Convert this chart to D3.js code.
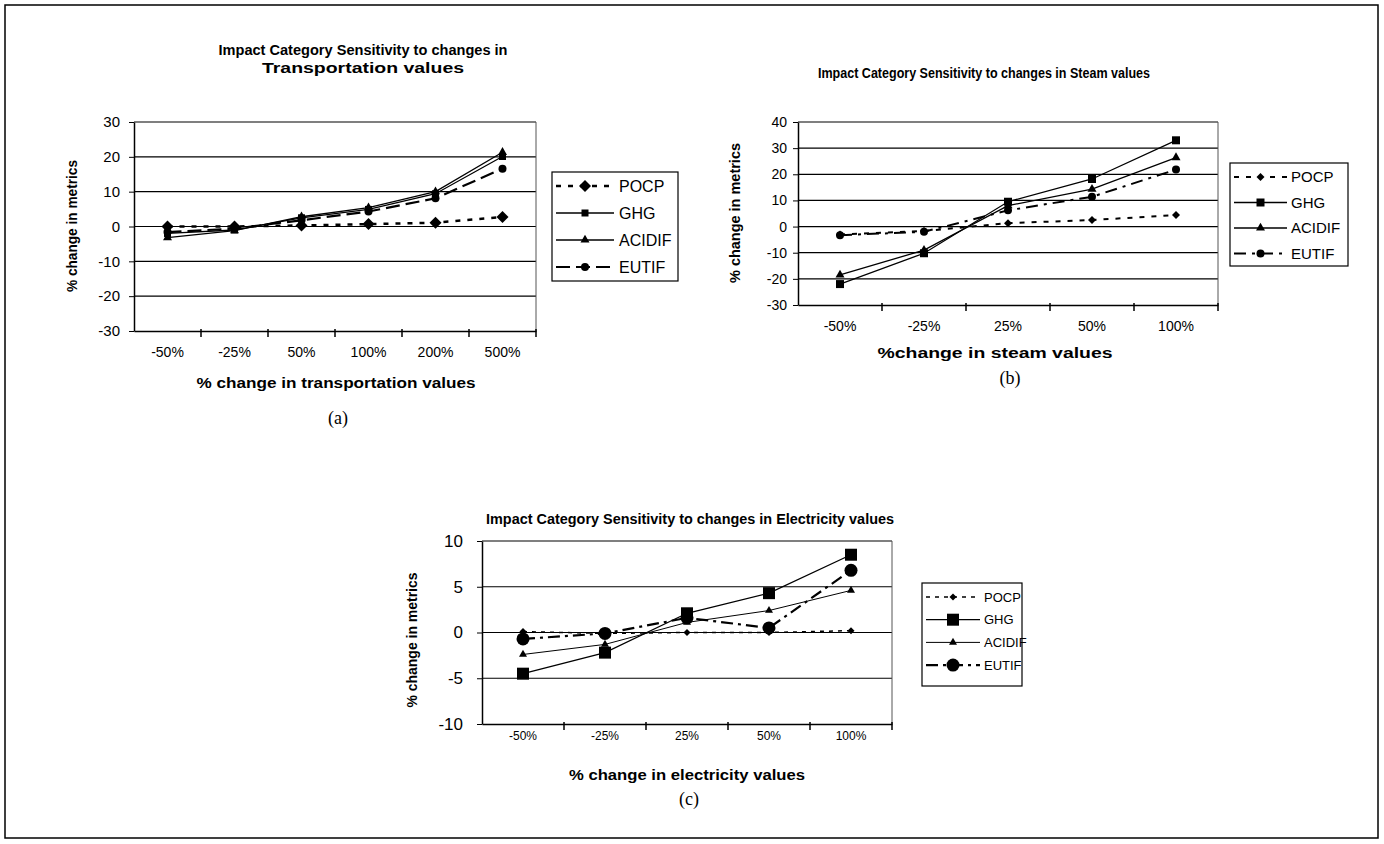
<!DOCTYPE html>
<html>
<head>
<meta charset="utf-8">
<script src="https://cdn.jsdelivr.net/npm/d3@7"></script>
<style>
  body { margin: 0; background: #fff; }
  text { font-family: "Liberation Sans", Arial, sans-serif; fill: #000; }
  .cap { font-family: "Liberation Serif", "Times New Roman", serif; }
</style>
</head>
<body>
<div class="viz"></div>
<script>
const seriesNames = ['POCP', 'GHG', 'ACIDIF', 'EUTIF']

// (a) transportation
const transportCategories = ['-50%', '-25%', '50%', '100%', '200%', '500%']
const transportTicks = [-30, -20, -10, 0, 10, 20, 30]
const transportPOCP = [0, 0, 0.3, 0.7, 1.1, 2.7]
const transportGHG = [-2, -1, 2.5, 4.9, 9.4, 20.1]
const transportACIDIF = [-3.2, -1.2, 2.8, 5.4, 10, 21.3]
const transportEUTIF = [-1.6, -0.6, 1.8, 4.3, 8.1, 16.6]

// (b) steam
const steamCategories = ['-50%', '-25%', '25%', '50%', '100%']
const steamTicks = [-30, -20, -10, 0, 10, 20, 30, 40]
const steamPOCP = [-3, -1.7, 1.3, 2.5, 4.4]
const steamGHG = [-22, -10.2, 9.5, 18.2, 33]
const steamACIDIF = [-18.5, -9, 8, 14.3, 26.4]
const steamEUTIF = [-3.3, -2, 6.2, 11.4, 21.8]

// (c) electricity
const electricityCategories = ['-50%', '-25%', '25%', '50%', '100%']
const electricityTicks = [-10, -5, 0, 5, 10]
const electricityPOCP = [0.1, -0.1, 0, 0, 0.2]
const electricityGHG = [-4.5, -2.2, 2.1, 4.3, 8.5]
const electricityACIDIF = [-2.4, -1.3, 1.1, 2.4, 4.6]
const electricityEUTIF = [-0.7, -0.1, 1.6, 0.5, 6.8]

const svg = d3.select('.viz')
  .append('svg')
    .attr('width', 1384)
    .attr('height', 844)

// outer frame of the page
svg.append('rect')
  .attr('x', 5).attr('y', 5)
  .attr('width', 1373).attr('height', 833)
  .attr('fill', 'none').attr('stroke', '#000').attr('stroke-width', 1.5)

// turn a marker spec into a d3 symbol path
function markerPath(m) {
  if (m.type === 'diamond') return d3.symbol(d3.symbolSquare, m.size * m.size / 2)()
  if (m.type === 'square') return d3.symbol(d3.symbolSquare, m.size * m.size)()
  if (m.type === 'triangle') return d3.symbol(d3.symbolTriangle, Math.sqrt(3) / 4 * m.size * m.size)()
  return d3.symbol(d3.symbolCircle, Math.PI * m.size * m.size)()
}

function fitText(sel, len) {
  return sel.attr('textLength', len).attr('lengthAdjust', 'spacingAndGlyphs')
}

function drawPanel(p) {
  const x = d3.scaleBand().domain(p.categories).range([p.left, p.right])
  const y = d3.scaleLinear().domain(d3.extent(p.ticks)).range([p.bottom, p.top])
  const g = svg.append('g')

  // horizontal gridlines
  g.selectAll('line.grid')
    .data(p.ticks.slice(1)).enter().append('line')
      .attr('x1', p.left).attr('x2', p.right)
      .attr('y1', d => y(d)).attr('y2', d => y(d))
      .attr('stroke', '#000').attr('stroke-width', 1.2)

  // right border of the plot
  g.append('line')
    .attr('x1', p.right).attr('x2', p.right)
    .attr('y1', p.top).attr('y2', p.bottom)
    .attr('stroke', '#555').attr('stroke-width', 1)

  // y axis, plain hyphen minus like the original
  const yAxis = g.append('g')
    .attr('transform', `translate(${p.left},0)`)
    .call(d3.axisLeft(y).tickValues(p.ticks).tickFormat(d => String(d))
      .tickSize(5).tickPadding(p.yPad).tickSizeOuter(0))
  yAxis.select('.domain').attr('stroke-width', 1.5)
  yAxis.selectAll('text').attr('font-size', p.yFont).attr('font-family', null)

  // x axis, labels centred in the bands
  const xAxis = g.append('g')
    .attr('transform', `translate(0,${p.bottom})`)
    .call(d3.axisBottom(x).tickSize(0).tickPadding(p.xPad).tickSizeOuter(0))
  xAxis.select('.domain').attr('stroke-width', 1.5)
  xAxis.selectAll('text').attr('font-size', p.xFont).attr('font-family', null)

  // x ticks sit on the band boundaries
  const bounds = p.categories.map(c => x(c)).concat([x.range()[1]])
  g.selectAll('line.xtick')
    .data(bounds.slice(1)).enter().append('line')
      .attr('x1', d => d).attr('x2', d => d)
      .attr('y1', p.bottom - 2).attr('y2', p.bottom + 6)
      .attr('stroke', '#000').attr('stroke-width', 1.5)

  // series lines and markers
  const line = d3.line()
    .x((d, i) => x(p.categories[i]) + x.bandwidth() / 2)
    .y(d => y(d))

  p.series.forEach(s => {
    g.append('path')
      .attr('d', line(s.values))
      .attr('fill', 'none')
      .attr('stroke', '#000')
      .attr('stroke-width', s.width)
      .attr('stroke-dasharray', s.dash)

    g.selectAll(null)
      .data(s.values).enter().append('path')
        .attr('d', markerPath(s.marker))
        .attr('transform', (d, i) => `translate(${x(p.categories[i]) + x.bandwidth() / 2},${y(d)})` + (s.marker.type === 'diamond' ? ' rotate(45)' : ''))
        .attr('fill', '#000')
  })

  // titles
  p.title.forEach((t, i) => {
    fitText(g.append('text'), p.titleLen[i])
      .attr('x', p.titleX).attr('y', p.titleY[i])
      .attr('text-anchor', 'middle')
      .attr('font-weight', 'bold').attr('font-size', 14)
      .text(t)
  })

  fitText(g.append('text'), p.xTitleLen)
    .attr('x', p.xTitleX).attr('y', p.xTitleY)
    .attr('text-anchor', 'middle')
    .attr('font-weight', 'bold').attr('font-size', 14)
    .text(p.xTitle)

  fitText(g.append('text'), p.yTitleLen)
    .attr('transform', `translate(${p.yTitleX},${p.yTitleY}) rotate(-90)`)
    .attr('text-anchor', 'middle')
    .attr('font-weight', 'bold').attr('font-size', 14)
    .text('% change in metrics')

  g.append('text')
    .attr('class', 'cap')
    .attr('x', p.capX).attr('y', p.capY)
    .attr('text-anchor', 'middle')
    .attr('font-size', 18)
    .text(p.caption)

  // legend
  const L = p.legend
  g.append('rect')
    .attr('x', L.x).attr('y', L.y)
    .attr('width', L.w).attr('height', L.h)
    .attr('fill', '#fff').attr('stroke', '#000').attr('stroke-width', 1.2)

  const rows = g.selectAll('g.row')
    .data(p.series).enter().append('g')
    .attr('transform', (d, i) => `translate(0,${L.row0 + i * L.dy})`)

  rows.append('line')
    .attr('x1', L.x0).attr('x2', L.x1)
    .attr('stroke', '#000')
    .attr('stroke-width', d => d.width)
    .attr('stroke-dasharray', d => d.dash)

  rows.append('path')
    .attr('d', d => markerPath(d.marker))
    .attr('transform', d => `translate(${(L.x0 + L.x1) / 2},0)` + (d.marker.type === 'diamond' ? ' rotate(45)' : ''))
    .attr('fill', '#000')

  rows.append('text')
    .attr('x', L.tx).attr('dy', '0.36em')
    .attr('font-size', L.font)
    .text(d => d.name)
}

drawPanel({
  categories: transportCategories, ticks: transportTicks,
  left: 134, right: 536, top: 122, bottom: 331,
  yFont: 15, yPad: 9, xFont: 14, xPad: 16,
  series: [
    { name: seriesNames[0], values: transportPOCP, width: 2.5, dash: '5,7', marker: { type: 'diamond', size: 12 } },
    { name: seriesNames[1], values: transportGHG, width: 1.3, dash: null, marker: { type: 'square', size: 7 } },
    { name: seriesNames[2], values: transportACIDIF, width: 1.3, dash: null, marker: { type: 'triangle', size: 9 } },
    { name: seriesNames[3], values: transportEUTIF, width: 2.2, dash: '14,6', marker: { type: 'circle', size: 4 } }
  ],
  title: ['Impact Category Sensitivity to changes in', 'Transportation values'],
  titleLen: [289, 202], titleX: 363, titleY: [55, 73],
  xTitle: '% change in transportation values', xTitleLen: 279, xTitleX: 336, xTitleY: 388,
  yTitleX: 77, yTitleY: 226, yTitleLen: 132,
  caption: '(a)', capX: 338, capY: 424,
  legend: { x: 552, y: 172, w: 126, h: 109, row0: 186, dy: 27, x0: 556, x1: 614, tx: 619, font: 16 }
})

drawPanel({
  categories: steamCategories, ticks: steamTicks,
  left: 798, right: 1218, top: 122, bottom: 305,
  yFont: 14, yPad: 6, xFont: 14, xPad: 16,
  series: [
    { name: seriesNames[0], values: steamPOCP, width: 2, dash: '5,7', marker: { type: 'diamond', size: 8 } },
    { name: seriesNames[1], values: steamGHG, width: 1.3, dash: null, marker: { type: 'square', size: 8 } },
    { name: seriesNames[2], values: steamACIDIF, width: 1.3, dash: null, marker: { type: 'triangle', size: 9 } },
    { name: seriesNames[3], values: steamEUTIF, width: 2, dash: '12,6,3,6', marker: { type: 'circle', size: 4 } }
  ],
  title: ['Impact Category Sensitivity to changes in Steam values'],
  titleLen: [332], titleX: 984, titleY: [78],
  xTitle: '%change in steam values', xTitleLen: 235, xTitleX: 995, xTitleY: 358,
  yTitleX: 740, yTitleY: 213, yTitleLen: 140,
  caption: '(b)', capX: 1010, capY: 384,
  legend: { x: 1230, y: 163, w: 118, h: 103, row0: 177, dy: 25.5, x0: 1234, x1: 1287, tx: 1291, font: 15 }
})

drawPanel({
  categories: electricityCategories, ticks: electricityTicks,
  left: 482, right: 892, top: 541, bottom: 724,
  yFont: 17, yPad: 14, xFont: 12, xPad: 7,
  series: [
    { name: seriesNames[0], values: electricityPOCP, width: 1.5, dash: '4,5', marker: { type: 'diamond', size: 7 } },
    { name: seriesNames[1], values: electricityGHG, width: 1.3, dash: null, marker: { type: 'square', size: 12 } },
    { name: seriesNames[2], values: electricityACIDIF, width: 1, dash: null, marker: { type: 'triangle', size: 8 } },
    { name: seriesNames[3], values: electricityEUTIF, width: 2.2, dash: '12,5,3,5', marker: { type: 'circle', size: 6.5 } }
  ],
  title: ['Impact Category Sensitivity to changes in Electricity values'],
  titleLen: [408], titleX: 690, titleY: [524],
  xTitle: '% change in electricity values', xTitleLen: 236, xTitleX: 687, xTitleY: 780,
  yTitleX: 417, yTitleY: 640, yTitleLen: 135,
  caption: '(c)', capX: 689, capY: 805,
  legend: { x: 922, y: 583, w: 100, h: 103, row0: 597, dy: 22.7, x0: 926, x1: 980, tx: 984, font: 13 }
})
</script>
</body>
</html>
